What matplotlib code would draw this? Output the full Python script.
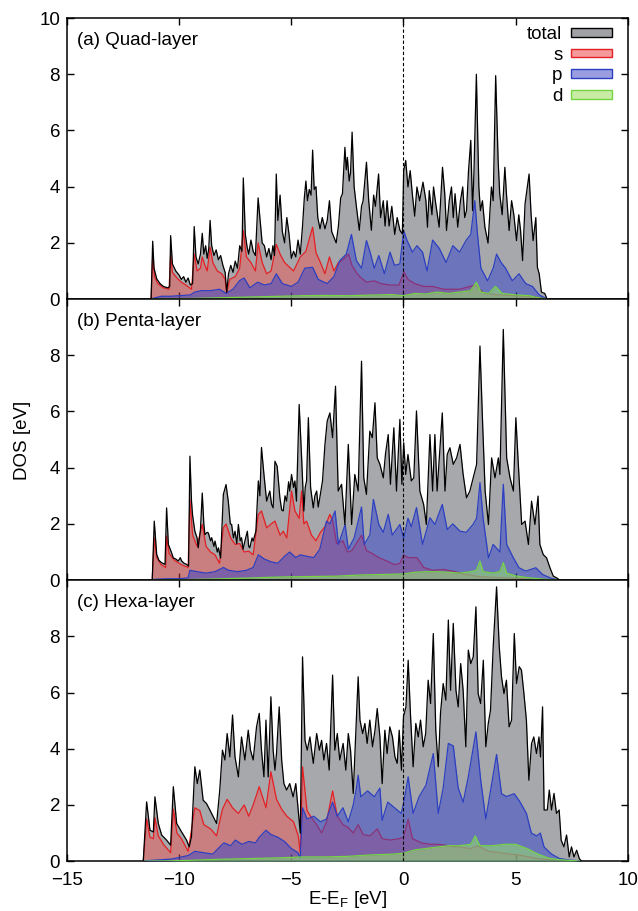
import numpy as np
import matplotlib
matplotlib.use('Agg')
import matplotlib.pyplot as plt
from matplotlib.patches import Patch

plt.rcParams['font.family'] = ['Liberation Sans', 'DejaVu Sans']
plt.rcParams['mathtext.fontset'] = 'custom'
plt.rcParams['mathtext.rm'] = 'Liberation Sans'

# (E - E_F [eV], DOS)
tot_a = [(-11.25, 0), (-11.18, 2.06), (-11.12, 1.1), (-11.0, 0.72), (-10.85, 0.55), (-10.7, 0.45),
         (-10.5, 0.4), (-10.42, 0.45), (-10.38, 2.26), (-10.3, 1.25), (-10.15, 1.0), (-10.0, 0.85),
         (-9.9, 0.7), (-9.8, 0.8), (-9.7, 0.6), (-9.6, 0.75), (-9.5, 0.5), (-9.4, 0.55), (-9.33, 2.58),
         (-9.25, 1.5), (-9.15, 1.25), (-9.05, 1.6), (-8.97, 2.34), (-8.9, 1.6), (-8.82, 1.9),
         (-8.75, 1.45), (-8.68, 1.8), (-8.62, 2.8), (-8.55, 1.9), (-8.45, 1.55), (-8.35, 1.75),
         (-8.25, 1.4), (-8.15, 1.55), (-8.05, 1.2), (-7.95, 0.95), (-7.88, 0.25), (-7.8, 0.9),
         (-7.7, 1.2), (-7.6, 0.95), (-7.5, 1.35), (-7.4, 1.1), (-7.3, 1.9), (-7.2, 1.7), (-7.14, 4.31),
         (-7.05, 2.3), (-6.97, 1.85), (-6.9, 1.6), (-6.8, 2.1), (-6.7, 1.7), (-6.6, 1.55), (-6.48, 3.6),
         (-6.4, 2.9), (-6.3, 2.0), (-6.2, 1.9), (-6.1, 1.5), (-6.0, 1.8), (-5.9, 1.4), (-5.82, 1.9),
         (-5.75, 1.55), (-5.67, 4.45), (-5.6, 2.8), (-5.5, 3.7), (-5.4, 2.4), (-5.3, 2.0), (-5.2, 2.9),
         (-5.1, 2.3), (-5.0, 1.45), (-4.9, 1.7), (-4.8, 1.5), (-4.7, 2.1), (-4.6, 1.6), (-4.5, 2.6),
         (-4.42, 3.6), (-4.35, 4.2), (-4.28, 3.5), (-4.2, 3.9), (-4.12, 3.7), (-4.05, 5.3), (-3.98, 3.9),
         (-3.9, 4.0), (-3.82, 2.9), (-3.72, 2.5), (-3.62, 2.9), (-3.5, 2.5), (-3.4, 2.8), (-3.3, 3.5),
         (-3.2, 2.4), (-3.1, 2.2), (-3.0, 2.0), (-2.9, 2.6), (-2.8, 3.6), (-2.72, 3.75), (-2.61, 5.4),
         (-2.55, 4.6), (-2.5, 5.04), (-2.42, 4.2), (-2.36, 4.5), (-2.29, 5.94), (-2.2, 4.0), (-2.1, 3.3),
         (-1.97, 2.45), (-1.87, 3.3), (-1.8, 3.5), (-1.65, 4.87), (-1.55, 3.5), (-1.43, 2.45),
         (-1.33, 3.7), (-1.25, 3.3), (-1.11, 4.45), (-1.02, 2.9), (-0.9, 3.5), (-0.82, 2.6), (-0.73, 3.5),
         (-0.64, 2.6), (-0.52, 3.3), (-0.39, 2.3), (-0.28, 2.9), (-0.16, 2.45), (-0.05, 2.32),
         (0.01, 4.57), (0.1, 4.93), (0.2, 3.99), (0.3, 4.57), (0.4, 3.7), (0.5, 2.95), (0.6, 3.99),
         (0.72, 3.5), (0.87, 4.16), (1.0, 3.5), (1.07, 2.56), (1.15, 3.86), (1.27, 3.0), (1.34, 3.99),
         (1.42, 3.5), (1.59, 2.56), (1.74, 4.69), (1.84, 3.75), (1.92, 2.44), (2.04, 3.5), (2.14, 3.99),
         (2.22, 2.9), (2.3, 3.75), (2.42, 2.56), (2.54, 3.5), (2.64, 3.99), (2.73, 2.9), (2.81, 3.15),
         (2.9, 4.57), (3.0, 5.65), (3.08, 3.15), (3.14, 4.45), (3.25, 8.0), (3.36, 3.99), (3.43, 3.15),
         (3.52, 3.5), (3.63, 2.56), (3.77, 1.99), (3.92, 3.99), (4.0, 3.5), (4.11, 7.95), (4.22, 4.93),
         (4.29, 3.75), (4.4, 3.0), (4.52, 4.69), (4.59, 3.75), (4.71, 2.44), (4.82, 3.5), (4.92, 3.0),
         (5.04, 2.08), (5.14, 3.0), (5.22, 2.44), (5.31, 1.37), (5.42, 3.39), (5.52, 3.99), (5.6, 4.45),
         (5.69, 3.0), (5.78, 2.08), (5.9, 2.9), (5.97, 1.13), (6.05, 0.9), (6.15, 0.25), (6.3, 0.2),
         (6.4, 0.0)]
s_a = [(-11.25, 0), (-11.18, 1.5), (-11.1, 0.8), (-10.95, 0.55), (-10.7, 0.4), (-10.45, 0.35),
       (-10.38, 1.6), (-10.3, 0.95), (-10.1, 0.75), (-9.9, 0.6), (-9.7, 0.5), (-9.45, 0.35), (-9.33, 1.6),
       (-9.2, 1.0), (-9.05, 1.1), (-8.97, 1.5), (-8.85, 1.2), (-8.75, 1.0), (-8.62, 1.85), (-8.5, 1.3),
       (-8.3, 1.0), (-8.1, 0.9), (-7.95, 0.7), (-7.88, 0.2), (-7.75, 0.7), (-7.5, 0.8), (-7.3, 1.1),
       (-7.14, 2.44), (-7.0, 1.5), (-6.8, 1.3), (-6.6, 1.0), (-6.48, 2.0), (-6.3, 1.3), (-6.1, 0.9),
       (-5.9, 1.0), (-5.67, 1.95), (-5.5, 1.6), (-5.3, 1.3), (-5.1, 1.15), (-4.9, 1.0), (-4.6, 1.5),
       (-4.35, 1.7), (-4.05, 2.56), (-3.9, 1.65), (-3.7, 1.3), (-3.5, 0.9), (-3.3, 1.5), (-3.1, 1.0),
       (-2.9, 1.3), (-2.7, 1.4), (-2.45, 1.6), (-2.3, 1.2), (-2.1, 0.95), (-1.95, 0.8), (-1.65, 0.6),
       (-1.3, 0.65), (-1.0, 0.55), (-0.6, 0.5), (-0.2, 0.5), (0.02, 0.97), (0.2, 0.7), (0.5, 0.55),
       (0.9, 0.45), (1.3, 0.45), (1.8, 0.35), (2.5, 0.35), (3.2, 0.5), (3.6, 0.2), (4.3, 0.15),
       (5.0, 0.12), (5.8, 0.08), (6.4, 0.0)]
p_a = [(-11.25, 0), (-11.2, 0.02), (-10.8, 0.1), (-10.4, 0.1), (-10.0, 0.12), (-9.5, 0.15), (-9.3, 0.25),
       (-9.0, 0.3), (-8.6, 0.3), (-8.2, 0.35), (-7.9, 0.2), (-7.6, 0.35), (-7.3, 0.66), (-7.1, 0.75),
       (-6.85, 0.4), (-6.5, 0.6), (-6.2, 0.5), (-5.9, 0.55), (-5.67, 0.9), (-5.4, 0.55), (-5.0, 0.45),
       (-4.7, 0.6), (-4.4, 1.1), (-4.05, 1.13), (-3.8, 0.7), (-3.4, 0.55), (-3.1, 0.8), (-2.84, 1.37),
       (-2.55, 1.6), (-2.32, 2.3), (-2.1, 1.37), (-1.87, 1.1), (-1.65, 2.08), (-1.5, 1.7), (-1.3, 1.1),
       (-1.1, 1.55), (-0.85, 0.9), (-0.6, 1.67), (-0.4, 1.2), (-0.16, 1.25), (0.01, 2.44), (0.15, 2.1),
       (0.4, 1.67), (0.6, 1.9), (0.85, 1.67), (1.05, 1.0), (1.3, 2.1), (1.6, 1.8), (1.9, 1.3), (2.2, 1.9),
       (2.5, 1.67), (2.8, 2.1), (3.0, 2.3), (3.18, 3.5), (3.3, 2.3), (3.45, 1.1), (3.75, 0.65),
       (4.0, 1.1), (4.15, 1.6), (4.35, 1.3), (4.55, 1.1), (4.85, 0.65), (5.15, 0.9), (5.45, 0.55),
       (5.75, 0.45), (6.05, 0.15), (6.4, 0.0)]
d_a = [(-11.25, 0), (-10.5, 0.01), (-9.5, 0.02), (-8.5, 0.04), (-7.5, 0.06), (-6.5, 0.08), (-5.5, 0.1),
       (-4.5, 0.12), (-3.5, 0.13), (-2.5, 0.12), (-1.5, 0.14), (-0.5, 0.16), (0.0, 0.12), (0.5, 0.2),
       (1.0, 0.18), (1.5, 0.25), (2.0, 0.2), (2.5, 0.25), (3.0, 0.3), (3.25, 0.6), (3.45, 0.25),
       (3.8, 0.2), (4.1, 0.45), (4.4, 0.2), (5.0, 0.15), (5.6, 0.12), (6.0, 0.05), (6.4, 0.0)]

tot_b = [(-11.2, 0), (-11.11, 2.1), (-11.0, 0.91), (-10.9, 0.7), (-10.78, 0.62), (-10.63, 0.56),
         (-10.56, 2.57), (-10.48, 1.27), (-10.35, 1.0), (-10.26, 0.79), (-10.15, 0.75), (-10.04, 0.68),
         (-9.95, 0.8), (-9.89, 0.68), (-9.78, 0.6), (-9.67, 0.56), (-9.58, 0.5), (-9.52, 4.41),
         (-9.45, 2.81), (-9.4, 2.3), (-9.3, 1.74), (-9.2, 1.5), (-9.15, 1.15), (-9.05, 1.8), (-8.97, 3.1),
         (-8.9, 2.0), (-8.85, 1.62), (-8.75, 1.7), (-8.7, 1.68), (-8.6, 1.4), (-8.55, 1.51), (-8.45, 1.2),
         (-8.4, 1.39), (-8.3, 1.0), (-8.25, 1.15), (-8.15, 0.79), (-8.03, 3.05), (-7.91, 3.4),
         (-7.81, 2.81), (-7.72, 2.0), (-7.66, 1.98), (-7.58, 1.5), (-7.51, 1.74), (-7.43, 1.3),
         (-7.36, 1.98), (-7.28, 1.4), (-7.22, 1.51), (-7.15, 1.1), (-7.07, 1.39), (-6.96, 1.74),
         (-6.9, 1.2), (-6.85, 1.15), (-6.75, 1.5), (-6.7, 1.39), (-6.58, 1.74), (-6.47, 3.53), (-6.4, 3.0),
         (-6.33, 4.72), (-6.22, 3.76), (-6.1, 2.81), (-5.96, 3.17), (-5.88, 2.7), (-5.81, 2.57),
         (-5.73, 4.23), (-5.63, 4.05), (-5.51, 2.93), (-5.43, 2.5), (-5.36, 2.46), (-5.28, 3.0),
         (-5.21, 2.81), (-5.12, 3.5), (-5.07, 3.17), (-4.99, 3.76), (-4.9, 3.3), (-4.84, 3.53),
         (-4.77, 2.81), (-4.65, 6.25), (-4.54, 4.35), (-4.44, 2.46), (-4.38, 3.3), (-4.32, 3.53),
         (-4.24, 5.78), (-4.14, 3.29), (-4.02, 2.57), (-3.95, 3.0), (-3.87, 3.17), (-3.8, 2.6),
         (-3.73, 2.93), (-3.61, 3.53), (-3.5, 4.83), (-3.4, 5.66), (-3.28, 5.95), (-3.16, 5.07),
         (-3.03, 6.9), (-2.91, 3.17), (-2.76, 3.41), (-2.61, 1.98), (-2.46, 4.83), (-2.31, 1.98),
         (-2.17, 3.76), (-2.02, 3.17), (-1.87, 7.79), (-1.77, 3.64), (-1.65, 3.05), (-1.5, 5.3),
         (-1.39, 5.07), (-1.27, 6.31), (-1.17, 4.35), (-1.05, 4.12), (-0.9, 3.64), (-0.8, 4.5),
         (-0.68, 5.18), (-0.58, 3.41), (-0.43, 5.42), (-0.31, 3.17), (-0.16, 5.72), (-0.07, 3.41),
         (0.01, 4.89), (0.1, 3.76), (0.2, 4.47), (0.35, 3.53), (0.46, 3.64), (0.58, 6.02), (0.73, 3.17),
         (0.9, 2.69), (1.02, 1.98), (1.18, 5.18), (1.3, 3.17), (1.4, 5.18), (1.5, 3.17), (1.73, 5.95),
         (1.85, 3.17), (1.95, 4.47), (2.07, 4.71), (2.22, 4.12), (2.37, 4.35), (2.52, 4.83), (2.66, 3.76),
         (2.81, 2.93), (2.96, 3.17), (3.11, 3.64), (3.26, 4.12), (3.41, 8.33), (3.53, 5.54), (3.64, 3.17),
         (3.79, 1.98), (3.93, 4.35), (4.08, 3.64), (4.23, 4.35), (4.3, 3.76), (4.45, 8.92), (4.6, 4.35),
         (4.75, 3.64), (4.9, 3.17), (5.01, 5.78), (5.12, 4.12), (5.27, 1.98), (5.42, 2.1), (5.57, 1.27),
         (5.71, 2.81), (5.86, 1.98), (6.0, 2.99), (6.08, 1.27), (6.23, 0.91), (6.38, 0.79), (6.53, 0.44),
         (6.68, 0.14), (6.83, 0.08), (6.97, 0.0)]
s_b = [(-11.2, 0), (-11.11, 1.5), (-11.0, 0.8), (-10.8, 0.55), (-10.6, 0.45), (-10.56, 1.57),
       (-10.45, 0.95), (-10.2, 0.7), (-9.9, 0.55), (-9.6, 0.45), (-9.52, 2.87), (-9.4, 1.6), (-9.2, 1.2),
       (-8.97, 1.98), (-8.8, 1.2), (-8.6, 1.0), (-8.4, 0.9), (-8.2, 0.6), (-8.03, 1.86), (-7.91, 2.0),
       (-7.7, 1.5), (-7.5, 1.27), (-7.3, 1.3), (-7.1, 1.0), (-6.9, 1.03), (-6.7, 0.9), (-6.47, 2.34),
       (-6.33, 2.46), (-6.1, 1.86), (-5.9, 2.0), (-5.73, 2.1), (-5.5, 1.6), (-5.36, 1.74), (-5.2, 1.5),
       (-4.99, 3.17), (-4.84, 2.46), (-4.65, 2.2), (-4.54, 3.17), (-4.44, 2.0), (-4.32, 2.1),
       (-4.1, 1.6), (-3.9, 1.4), (-3.7, 1.7), (-3.5, 1.9), (-3.28, 2.34), (-3.15, 2.1), (-2.98, 1.3),
       (-2.7, 1.4), (-2.5, 1.0), (-2.3, 1.05), (-2.1, 1.3), (-1.87, 1.6), (-1.65, 1.05), (-1.4, 0.95),
       (-1.1, 0.8), (-0.8, 0.7), (-0.4, 0.55), (-0.16, 0.6), (0.01, 0.9), (0.2, 0.8), (0.6, 0.8),
       (0.9, 0.45), (1.3, 0.35), (1.8, 0.38), (2.3, 0.3), (2.8, 0.2), (3.4, 0.12), (4.0, 0.1),
       (4.5, 0.08), (5.3, 0.06), (6.0, 0.03), (6.97, 0.0)]
p_b = [(-11.2, 0), (-11.1, 0.03), (-10.5, 0.05), (-10.0, 0.05), (-9.6, 0.08), (-9.52, 0.35), (-9.2, 0.3),
       (-8.8, 0.25), (-8.4, 0.3), (-8.03, 0.45), (-7.8, 0.35), (-7.4, 0.3), (-7.0, 0.35), (-6.7, 0.45),
       (-6.47, 0.9), (-6.2, 0.75), (-5.9, 0.65), (-5.6, 0.6), (-5.3, 0.85), (-5.07, 1.0), (-4.8, 0.8),
       (-4.6, 0.9), (-4.32, 0.85), (-4.0, 0.8), (-3.73, 1.1), (-3.43, 2.1), (-3.28, 2.0), (-3.05, 2.46),
       (-2.9, 1.27), (-2.6, 1.98), (-2.46, 1.1), (-2.2, 1.5), (-1.87, 2.6), (-1.75, 1.27), (-1.5, 1.6),
       (-1.34, 2.87), (-1.1, 1.98), (-0.9, 1.7), (-0.68, 2.34), (-0.5, 1.6), (-0.16, 1.98), (0.01, 1.5),
       (0.2, 2.2), (0.35, 1.9), (0.58, 2.58), (0.85, 1.27), (1.18, 2.22), (1.4, 1.98), (1.73, 2.69),
       (1.95, 1.8), (2.2, 2.0), (2.52, 1.74), (2.8, 1.7), (3.1, 1.98), (3.26, 2.2), (3.41, 3.47),
       (3.55, 2.2), (3.79, 0.79), (4.0, 1.27), (4.3, 1.0), (4.45, 3.41), (4.6, 1.27), (4.9, 0.79),
       (5.15, 0.44), (5.45, 0.32), (5.9, 0.44), (6.2, 0.2), (6.6, 0.06), (6.97, 0.0)]
d_b = [(-11.2, 0), (-10.0, 0.01), (-9.0, 0.03), (-8.0, 0.05), (-7.0, 0.07), (-6.0, 0.1), (-5.0, 0.12),
       (-4.0, 0.13), (-3.0, 0.14), (-2.0, 0.18), (-1.0, 0.2), (0.0, 0.22), (0.5, 0.28), (1.0, 0.3),
       (1.5, 0.3), (2.0, 0.28), (2.5, 0.25), (3.0, 0.3), (3.25, 0.35), (3.41, 0.68), (3.55, 0.3),
       (4.0, 0.25), (4.3, 0.3), (4.45, 0.62), (4.6, 0.25), (5.0, 0.15), (5.6, 0.08), (6.3, 0.03),
       (6.97, 0.0)]

tot_c = [(-11.6, 0), (-11.45, 2.11), (-11.3, 1.1), (-11.15, 1.04), (-11.08, 2.29), (-10.93, 1.34),
         (-10.78, 0.93), (-10.56, 0.75), (-10.38, 0.57), (-10.26, 2.65), (-10.11, 1.34), (-9.89, 1.04),
         (-9.67, 0.75), (-9.55, 0.51), (-9.45, 0.87), (-9.3, 3.36), (-9.19, 2.76), (-9.08, 3.24),
         (-8.93, 2.17), (-8.78, 2.05), (-8.63, 1.82), (-8.48, 1.58), (-8.33, 1.34), (-8.19, 2.53),
         (-8.07, 3.95), (-7.96, 3.6), (-7.86, 4.54), (-7.74, 3.71), (-7.62, 5.2), (-7.51, 3.71),
         (-7.36, 3.0), (-7.22, 4.42), (-7.07, 3.6), (-6.92, 4.66), (-6.82, 3.95), (-6.7, 3.6),
         (-6.55, 4.78), (-6.43, 5.26), (-6.33, 3.95), (-6.22, 3.0), (-6.13, 5.02), (-6.03, 3.0),
         (-5.91, 5.85), (-5.81, 3.95), (-5.73, 3.24), (-5.66, 3.83), (-5.54, 5.49), (-5.43, 3.6),
         (-5.33, 2.76), (-5.21, 2.53), (-5.07, 2.76), (-4.92, 2.29), (-4.8, 2.76), (-4.69, 1.8),
         (-4.6, 1.0), (-4.5, 7.27), (-4.39, 4.3), (-4.29, 3.95), (-4.17, 4.42), (-4.02, 3.48),
         (-3.87, 4.54), (-3.75, 3.95), (-3.65, 4.3), (-3.55, 3.6), (-3.43, 4.19), (-3.31, 3.24),
         (-3.16, 6.62), (-3.06, 3.95), (-2.95, 4.54), (-2.84, 3.6), (-2.69, 4.19), (-2.57, 3.24),
         (-2.46, 4.54), (-2.36, 3.95), (-2.24, 2.41), (-2.02, 6.56), (-1.94, 5.02), (-1.82, 4.54),
         (-1.72, 4.9), (-1.62, 4.19), (-1.5, 5.02), (-1.38, 4.07), (-1.27, 4.66), (-1.17, 5.43),
         (-1.05, 4.42), (-0.95, 2.76), (-0.83, 4.66), (-0.73, 3.83), (-0.61, 4.78), (-0.49, 4.42),
         (-0.38, 3.71), (-0.28, 3.48), (-0.19, 4.66), (-0.09, 3.24), (0.0, 5.14), (0.11, 5.49),
         (0.21, 7.15), (0.31, 5.26), (0.43, 3.36), (0.55, 4.9), (0.66, 4.42), (0.76, 5.02), (0.88, 4.07),
         (0.99, 4.54), (1.1, 6.44), (1.21, 5.61), (1.33, 8.1), (1.44, 4.66), (1.55, 3.36), (1.65, 5.26),
         (1.77, 6.32), (1.89, 5.73), (2.0, 8.58), (2.1, 6.08), (2.22, 8.46), (2.34, 6.08), (2.44, 5.49),
         (2.55, 7.03), (2.66, 6.08), (2.78, 4.07), (2.89, 7.51), (3.0, 7.03), (3.11, 7.27), (3.23, 9.05),
         (3.33, 5.96), (3.44, 5.61), (3.56, 7.15), (3.67, 4.07), (3.78, 4.9), (3.88, 5.37), (4.0, 7.63),
         (4.15, 9.76), (4.27, 7.63), (4.37, 6.56), (4.48, 5.96), (4.59, 6.44), (4.71, 4.78), (4.82, 5.02),
         (4.94, 8.1), (5.04, 6.32), (5.16, 6.92), (5.26, 6.8), (5.37, 5.96), (5.48, 5.02), (5.59, 2.88),
         (5.71, 4.19), (5.81, 4.42), (5.93, 3.83), (6.04, 4.42), (6.11, 3.71), (6.2, 5.49), (6.27, 1.82),
         (6.41, 1.82), (6.5, 2.53), (6.6, 1.82), (6.71, 2.41), (6.82, 1.7), (6.94, 1.82), (7.03, 0.75),
         (7.15, 0.51), (7.27, 0.93), (7.39, 0.15), (7.49, 0.51), (7.6, 0.15), (7.72, 0.39), (7.84, 0.09),
         (7.94, 0.0)]
s_c = [(-11.6, 0), (-11.45, 1.5), (-11.3, 0.85), (-11.15, 0.8), (-11.08, 1.55), (-10.93, 0.9),
       (-10.7, 0.6), (-10.38, 0.3), (-10.26, 1.85), (-10.1, 1.0), (-9.9, 0.8), (-9.6, 0.35), (-9.3, 1.9),
       (-9.08, 1.8), (-8.9, 1.3), (-8.6, 1.15), (-8.33, 0.9), (-8.07, 1.85), (-7.86, 2.2), (-7.62, 1.9),
       (-7.36, 1.7), (-7.1, 2.0), (-6.9, 1.6), (-6.7, 2.0), (-6.43, 2.65), (-6.13, 1.9), (-5.91, 3.18),
       (-5.66, 2.2), (-5.43, 1.85), (-5.2, 1.6), (-4.9, 1.4), (-4.69, 0.9), (-4.6, 0.3), (-4.5, 3.36),
       (-4.3, 1.8), (-4.1, 1.55), (-3.87, 1.3), (-3.65, 1.0), (-3.43, 1.4), (-3.16, 2.5), (-2.95, 1.6),
       (-2.7, 1.3), (-2.46, 1.2), (-2.24, 1.0), (-2.02, 1.3), (-1.8, 0.95), (-1.5, 0.9), (-1.17, 1.15),
       (-0.95, 0.8), (-0.6, 0.75), (-0.2, 0.8), (0.0, 0.85), (0.21, 1.5), (0.4, 0.8), (0.8, 0.65),
       (1.2, 0.6), (1.6, 0.6), (2.0, 0.55), (2.5, 0.5), (3.0, 0.45), (3.3, 0.55), (3.8, 0.35),
       (4.3, 0.3), (4.8, 0.25), (5.3, 0.2), (5.9, 0.1), (6.5, 0.05), (7.0, 0.02), (7.94, 0.0)]
p_c = [(-11.6, 0), (-11.4, 0.02), (-10.8, 0.05), (-10.3, 0.08), (-9.9, 0.15), (-9.6, 0.2), (-9.3, 0.35),
       (-8.9, 0.3), (-8.5, 0.25), (-8.2, 0.5), (-8.0, 0.65), (-7.7, 0.55), (-7.5, 0.75), (-7.2, 0.6),
       (-6.9, 0.7), (-6.6, 0.65), (-6.43, 0.85), (-6.13, 1.1), (-5.91, 0.95), (-5.6, 0.85), (-5.3, 0.7),
       (-5.0, 0.45), (-4.7, 0.3), (-4.6, 0.1), (-4.5, 1.9), (-4.3, 1.5), (-4.0, 1.6), (-3.7, 1.4),
       (-3.43, 1.5), (-3.16, 2.1), (-2.95, 1.6), (-2.7, 1.9), (-2.46, 1.4), (-2.24, 2.0), (-2.1, 2.6),
       (-2.02, 3.06), (-1.9, 2.29), (-1.6, 2.5), (-1.3, 2.29), (-1.05, 2.6), (-0.95, 1.45), (-0.7, 2.1),
       (-0.4, 1.9), (-0.1, 1.7), (0.0, 2.05), (0.21, 3.0), (0.43, 1.7), (0.7, 2.3), (1.0, 2.7),
       (1.33, 3.83), (1.55, 1.7), (1.77, 2.6), (2.0, 4.19), (2.22, 4.1), (2.44, 2.6), (2.66, 2.1),
       (2.89, 3.0), (3.23, 4.6), (3.44, 2.9), (3.67, 1.5), (3.9, 2.6), (4.15, 3.8), (4.37, 2.4),
       (4.59, 2.3), (4.94, 2.4), (5.2, 2.1), (5.48, 1.7), (5.7, 1.0), (5.93, 0.9), (6.1, 1.0),
       (6.27, 0.5), (6.6, 0.25), (6.94, 0.1), (7.3, 0.05), (7.94, 0.0)]
d_c = [(-11.6, 0), (-10.5, 0.01), (-9.5, 0.03), (-8.5, 0.06), (-7.5, 0.08), (-6.5, 0.1), (-5.5, 0.12),
       (-4.5, 0.15), (-3.5, 0.15), (-2.5, 0.17), (-1.5, 0.22), (-0.5, 0.25), (0.0, 0.28), (0.5, 0.4),
       (1.0, 0.45), (1.5, 0.5), (2.0, 0.55), (2.5, 0.55), (3.0, 0.6), (3.2, 0.9), (3.4, 0.55),
       (4.0, 0.55), (4.5, 0.6), (5.0, 0.6), (5.5, 0.45), (6.0, 0.25), (6.5, 0.1), (7.0, 0.05),
       (7.94, 0.0)]

panels = [('(a) Quad-layer', tot_a, s_a, p_a, d_a),
          ('(b) Penta-layer', tot_b, s_b, p_b, d_b),
          ('(c) Hexa-layer', tot_c, s_c, p_c, d_c)]

gray = '#a6a8ab'
# fill colour, line colour, alpha
styles = {'s': ('#ff4040', '#e42024', 0.4),
          'p': ('#3344cc', '#2c3fc2', 0.5),
          'd': ('#99ee66', '#74d444', 0.5)}

fs = 13.5
fig = plt.figure(figsize=(6.38, 9.11), dpi=100)
bottoms = [0.6717, 0.3632, 0.0547]
height = 0.3085

for i, (title, tot, s, p, d) in enumerate(panels):
    ax = fig.add_axes([0.105, bottoms[i], 0.879, height])

    e, y = np.array(tot).T
    ax.fill_between(e, y, color=gray, lw=0, zorder=1)
    for z, (key, data) in enumerate([('s', s), ('p', p), ('d', d)]):
        fc, lc, al = styles[key]
        ee, yy = np.array(data).T
        ax.fill_between(ee, yy, color=fc, alpha=al, lw=0, zorder=2 + z)
        ax.plot(ee, yy, color=lc, lw=0.9, zorder=2 + z)
    ax.plot(e, y, color='k', lw=0.9, zorder=6)
    ax.axvline(0, color='k', ls=(0, (3, 2)), lw=0.8, zorder=7)

    ax.set_xlim(-15, 10)
    ax.set_ylim(0, 10)
    ax.set_xticks([-15, -10, -5, 0, 5, 10])
    ax.set_yticks([0, 2, 4, 6, 8, 10] if i == 0 else [0, 2, 4, 6, 8])
    ax.tick_params(direction='in', top=True, right=True, length=5, width=1,
                   labelsize=fs, pad=5)
    ax.tick_params(axis='x', pad=8)
    if i < 2:
        ax.tick_params(labelbottom=False)
    for sp in ax.spines.values():
        sp.set_linewidth(1.1)

    ax.text(0.018, 0.92, title, transform=ax.transAxes, fontsize=fs, va='center')

    if i == 0:
        handles = [Patch(facecolor='#a0a1a5', edgecolor='k', lw=1),
                   Patch(facecolor='#f59a9a', edgecolor='#e42024', lw=1),
                   Patch(facecolor='#9a9ee0', edgecolor='#2c3fc2', lw=1),
                   Patch(facecolor='#c8eca4', edgecolor='#74d444', lw=1)]
        ax.legend(handles, ['total', 's', 'p', 'd'], loc='upper right',
                  bbox_to_anchor=(0.972, 0.972), markerfirst=False, frameon=False,
                  fontsize=fs, handlelength=2.2, handleheight=0.35, labelspacing=0.2,
                  handletextpad=0.45, borderaxespad=0, borderpad=0)
    if i == 2:
        ax.set_xlabel(r'E-E$_{\rm F}$ [eV]', fontsize=fs, labelpad=0)

fig.text(0.036, 0.517, 'DOS [eV]', rotation=90, va='center', ha='center', fontsize=fs)

fig.savefig('out.png', dpi=100)
